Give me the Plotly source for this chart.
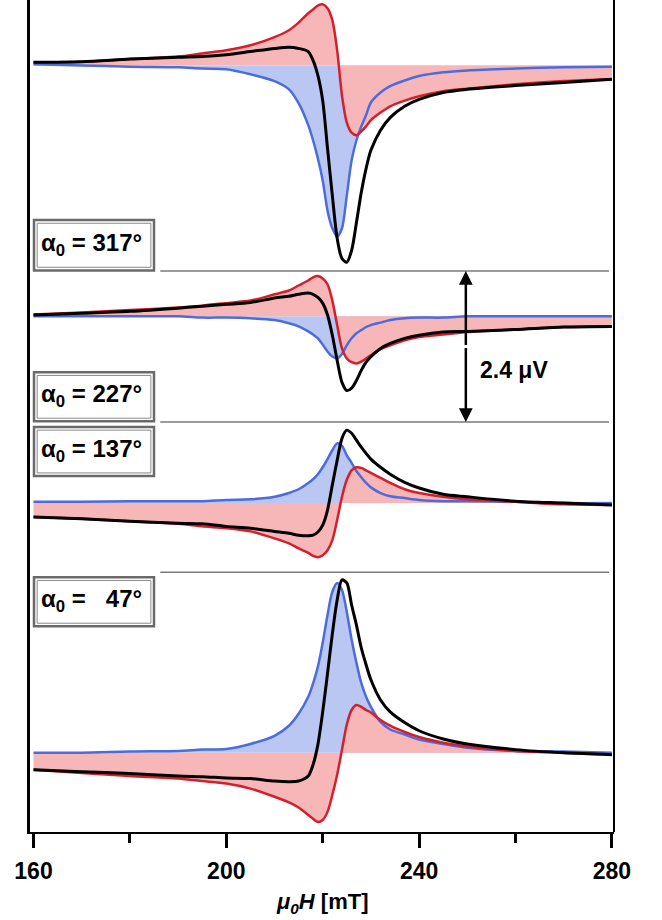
import plotly.graph_objects as go

# field axis (mT) used for every curve
field_mT = [160, 170, 180, 190, 195, 200, 205, 210, 213, 215, 217, 218, 219, 220,
            221, 222, 223, 224, 225, 226, 227, 228, 229, 230, 232, 234, 237, 240,
            245, 250, 260, 270, 280]

# voltages in uV, relative to each panel's baseline
# alpha0 = 317 deg
red_317 = [0.05, 0.06, 0.10, 0.14, 0.19, 0.24, 0.32, 0.45, 0.56, 0.68, 0.83, 0.89, 0.95, 0.97,
           0.91, 0.72, 0.24, -0.48, -0.91, -1.07, -1.11, -1.05, -0.97, -0.87, -0.75, -0.65, -0.56, -0.49,
           -0.41, -0.37, -0.30, -0.25, -0.22]
blue_317 = [0.02, 0.00, -0.02, -0.03, -0.05, -0.06, -0.14, -0.25, -0.38, -0.60, -0.95, -1.19, -1.48, -1.83,
            -2.31, -2.59, -2.72, -2.59, -2.07, -1.51, -1.19, -0.97, -0.79, -0.59, -0.43, -0.33, -0.24, -0.17,
            -0.11, -0.08, -0.05, -0.03, -0.02]
black_317 = [0.05, 0.06, 0.10, 0.13, 0.14, 0.17, 0.22, 0.27, 0.29, 0.27, 0.22, 0.08, -0.16, -0.56,
             -1.32, -2.07, -2.75, -3.07, -3.13, -2.94, -2.50, -2.02, -1.64, -1.35, -1.03, -0.83, -0.65, -0.54,
             -0.43, -0.38, -0.32, -0.27, -0.22]

# alpha0 = 227 deg
red_227 = [0.03, 0.06, 0.10, 0.14, 0.17, 0.21, 0.25, 0.35, 0.41, 0.49, 0.57, 0.62, 0.64, 0.60,
           0.51, 0.25, -0.14, -0.51, -0.67, -0.73, -0.75, -0.72, -0.67, -0.62, -0.52, -0.46, -0.38, -0.33,
           -0.29, -0.25, -0.21, -0.17, -0.16]
blue_227 = [0.00, 0.00, 0.00, 0.00, -0.02, -0.02, -0.03, -0.06, -0.11, -0.16, -0.24, -0.29, -0.35, -0.45,
            -0.56, -0.64, -0.67, -0.60, -0.46, -0.35, -0.27, -0.22, -0.17, -0.14, -0.10, -0.06, -0.03, -0.02,
            -0.02, 0.00, 0.00, 0.00, 0.00]
black_227 = [0.02, 0.05, 0.08, 0.13, 0.16, 0.19, 0.22, 0.29, 0.32, 0.35, 0.37, 0.35, 0.30, 0.21,
             0.02, -0.30, -0.70, -1.05, -1.18, -1.14, -1.02, -0.86, -0.73, -0.64, -0.51, -0.43, -0.35, -0.30,
             -0.25, -0.24, -0.21, -0.17, -0.16]

# alpha0 = 137 deg
red_137 = [-0.22, -0.25, -0.29, -0.33, -0.37, -0.40, -0.45, -0.56, -0.64, -0.72, -0.79, -0.84, -0.86, -0.83,
           -0.75, -0.59, -0.27, 0.10, 0.37, 0.52, 0.57, 0.56, 0.52, 0.48, 0.40, 0.32, 0.22, 0.16,
           0.10, 0.06, 0.02, -0.02, -0.03]
blue_137 = [0.02, 0.02, 0.03, 0.03, 0.03, 0.05, 0.06, 0.10, 0.16, 0.22, 0.32, 0.38, 0.46, 0.57,
            0.70, 0.84, 0.95, 0.91, 0.76, 0.64, 0.51, 0.41, 0.32, 0.25, 0.16, 0.11, 0.08, 0.05,
            0.03, 0.03, 0.02, 0.00, 0.00]
black_137 = [-0.22, -0.25, -0.29, -0.32, -0.33, -0.37, -0.40, -0.45, -0.48, -0.51, -0.52, -0.51, -0.46, -0.35,
             -0.11, 0.29, 0.68, 1.03, 1.16, 1.11, 1.00, 0.89, 0.79, 0.70, 0.57, 0.46, 0.33, 0.24,
             0.14, 0.10, 0.03, 0.00, -0.03]

# alpha0 = 47 deg
red_47 = [-0.27, -0.32, -0.37, -0.41, -0.45, -0.49, -0.57, -0.70, -0.79, -0.87, -0.99, -1.05, -1.10, -1.07,
          -0.94, -0.67, -0.35, 0.05, 0.45, 0.68, 0.76, 0.73, 0.68, 0.64, 0.52, 0.43, 0.33, 0.25,
          0.16, 0.10, 0.03, 0.00, -0.03]
blue_47 = [0.00, 0.00, 0.02, 0.03, 0.05, 0.06, 0.14, 0.27, 0.43, 0.62, 0.89, 1.10, 1.37, 1.75,
           2.19, 2.56, 2.70, 2.59, 2.24, 1.80, 1.43, 1.11, 0.89, 0.73, 0.49, 0.37, 0.29, 0.21,
           0.14, 0.08, 0.03, 0.02, 0.00]
black_47 = [-0.27, -0.30, -0.33, -0.37, -0.38, -0.40, -0.41, -0.45, -0.46, -0.45, -0.37, -0.19, 0.13, 0.65,
            1.26, 1.89, 2.43, 2.75, 2.70, 2.35, 2.03, 1.67, 1.40, 1.16, 0.84, 0.65, 0.48, 0.35,
            0.22, 0.14, 0.05, 0.00, -0.03]

angles = ["317", "227", "137", "\u00a0\u00a047"]
offsets_uV = [12.19, 8.20, 5.23, 1.26]      # baseline of each panel
separators_uV = [8.92, 6.52, 4.13]
label_boxes_uV = [(8.93, 9.73), (6.53, 7.31), (5.66, 6.44), (3.27, 4.05)]
scale_bar_uV = 2.4
scale_bar_field = 249.7

RED, BLUE = "#d2202c", "#4c6cdc"
RED_FILL, BLUE_FILL = "#f7b7b9", "#b9c7f2"
FONT = "Liberation Sans, Arial, sans-serif"

panels = [
    (red_317, blue_317, black_317),
    (red_227, blue_227, black_227),
    (red_137, blue_137, black_137),
    (red_47, blue_47, black_47),
]

fig = go.Figure()
for off, (red, blue, black) in zip(offsets_uV, panels):
    base = [off] * len(field_mT)
    for vals, fc in ((blue, BLUE_FILL), (red, RED_FILL)):
        fig.add_trace(go.Scatter(x=field_mT, y=base, mode="lines", line=dict(width=0),
                                 hoverinfo="skip", showlegend=False))
        fig.add_trace(go.Scatter(x=field_mT, y=[off + v for v in vals], mode="lines",
                                 line=dict(width=0, shape="spline", smoothing=0.8),
                                 fill="tonexty", fillcolor=fc, hoverinfo="skip", showlegend=False))
    for vals, col, w in ((blue, BLUE, 2.5), (red, RED, 2.5), (black, "black", 3)):
        fig.add_trace(go.Scatter(x=field_mT, y=[off + v for v in vals], mode="lines",
                                 line=dict(color=col, width=w, shape="spline", smoothing=0.8),
                                 showlegend=False))

shapes = []
for s in separators_uV:
    shapes.append(dict(type="line", xref="x", yref="y", x0=186.3, x1=279.4, y0=s, y1=s,
                       line=dict(color="#7a7a7a", width=1.5)))
annotations = []
for ang, (y0, y1) in zip(angles, label_boxes_uV):
    shapes.append(dict(type="rect", xref="x", yref="y", x0=160.1, x1=185.0, y0=y0, y1=y1,
                       fillcolor="white", line=dict(color="#6a6a6a", width=2.5)))
    shapes.append(dict(type="rect", xref="x", yref="y", x0=160.75, x1=184.35, y0=y0 + 0.05, y1=y1 - 0.05,
                       line=dict(color="#8a8a8a", width=1)))
    annotations.append(dict(x=161.2, y=(y0 + y1) / 2 + 0.02, xref="x", yref="y", xanchor="left", yanchor="middle",
                            text="<b>\u03b1<sub>0</sub> = " + ang + "\u00b0</b>", showarrow=False,
                            font=dict(family=FONT, size=24, color="black")))

# right frame line
shapes.append(dict(type="line", xref="paper", yref="paper", x0=1, x1=1, y0=0, y1=1,
                   line=dict(color="black", width=2)))

# 2.4 uV scale bar
bar_lo = separators_uV[1]
bar_hi = bar_lo + scale_bar_uV
bar_mid = (bar_lo + bar_hi) / 2
for tip in (bar_hi, bar_lo):
    annotations.append(dict(x=scale_bar_field, y=tip, ax=scale_bar_field, ay=bar_mid, xref="x", yref="y",
                            axref="x", ayref="y", text="", showarrow=True, arrowhead=2, arrowsize=1.1,
                            arrowwidth=2.5, arrowcolor="black"))
annotations.append(dict(x=252.2, y=7.35, xref="x", yref="y", xanchor="left", yanchor="middle",
                        text="<b>2.4 \u03bcV</b>", showarrow=False,
                        font=dict(family=FONT, size=23, color="black")))
annotations.append(dict(x=220, y=-0.085, xref="x", yref="paper", xanchor="center", yanchor="middle",
                        text="<b><i>\u03bc<sub>0</sub>H</i> [mT]</b>", showarrow=False,
                        font=dict(family=FONT, size=22, color="black")))

fig.update_layout(
    width=662, height=920,
    margin=dict(l=30, r=48, t=0, b=88),
    paper_bgcolor="white", plot_bgcolor="white",
    shapes=shapes, annotations=annotations,
    showlegend=False,
)
fig.update_xaxes(range=[159.27, 280.44], showgrid=False, zeroline=False,
                 showline=True, linecolor="black", linewidth=2,
                 tickvals=[160, 200, 240, 280], ticktext=["<b>160</b>", "<b>200</b>", "<b>240</b>", "<b>280</b>"],
                 ticks="outside", ticklen=14, tickwidth=2.5, tickcolor="black",
                 tickfont=dict(family=FONT, size=23, color="black"), ticklabelstandoff=3,
                 minor=dict(tickvals=[180, 220, 260], ticks="outside", ticklen=9, tickwidth=2.5, tickcolor="black"))
fig.update_yaxes(range=[0, 13.23], showgrid=False, zeroline=False, showticklabels=False,
                 showline=True, linecolor="black", linewidth=3, ticks="")

# drop the browser's default 8px body margin so the figure sits at the page corner
fig.write_html("out.html", config={"displayModeBar": False},
               post_script="document.body.style.margin='0';")
